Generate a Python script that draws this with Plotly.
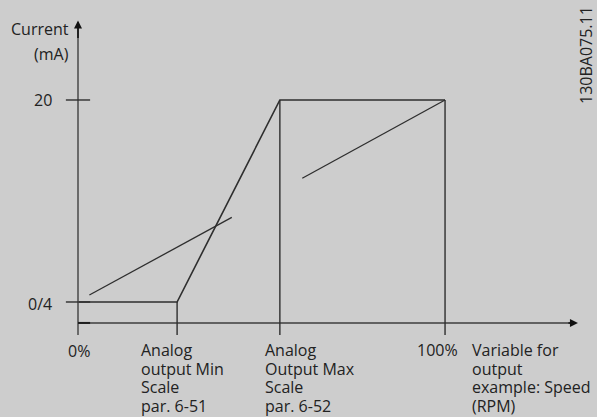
import plotly.graph_objects as go

# x in % of the variable, y in mA
pct_ticks = [0, 27, 55, 100]
ma_levels = [4, 20]
ma_labels = ["0/4", "20"]

min_label = ["Analog", "output Min", "Scale", "par. 6-51"]
max_label = ["Analog", "Output Max", "Scale", "par. 6-52"]
var_label = ["Variable for", "output", "example: Speed", "(RPM)"]
y_title = ["Current", "(mA)"]

curve_x = [0, 27, 55, 100]
curve_y = [4, 4, 20, 20]

# the two short illustration lines (slope of the variable)
slope_a_x = [3.1, 41.9]
slope_a_y = [4.55, 10.7]
slope_b_x = [61.1, 100]
slope_b_y = [13.8, 20]

axis_bottom = 1.39   # where the tick lines stop below the x axis
x_axis_y = 2.34
y_top = 26.3
x_end = 136.2

bg = "#cdcdcd"
ink = "#2e2e2e"

fig = go.Figure()

fig.add_trace(go.Scatter(x=curve_x, y=curve_y, mode="lines",
                         line=dict(color=ink, width=1.6), hoverinfo="skip"))
fig.add_trace(go.Scatter(x=slope_a_x, y=slope_a_y, mode="lines",
                         line=dict(color=ink, width=1.3), hoverinfo="skip"))
fig.add_trace(go.Scatter(x=slope_b_x, y=slope_b_y, mode="lines",
                         line=dict(color=ink, width=1.3), hoverinfo="skip"))

shapes = []
# y axis
shapes.append(dict(type="line", x0=0, x1=0, y0=axis_bottom, y1=y_top - 0.6,
                   line=dict(color="#6a6a6a", width=2)))
# x axis
shapes.append(dict(type="line", x0=0, x1=x_end - 1.5, y0=x_axis_y, y1=x_axis_y,
                   line=dict(color="#3c3c3c", width=1.6)))
# vertical drops from the curve
shapes.append(dict(type="line", x0=pct_ticks[1], x1=pct_ticks[1], y0=4, y1=axis_bottom,
                   line=dict(color=ink, width=1.4)))
for xv in pct_ticks[2:]:
    shapes.append(dict(type="line", x0=xv, x1=xv, y0=20, y1=axis_bottom,
                       line=dict(color=ink, width=1.4)))
# y ticks
for yv in ma_levels:
    shapes.append(dict(type="line", x0=-3.3, x1=3.3, y0=yv, y1=yv,
                       line=dict(color=ink, width=1.4)))
shapes.append(dict(type="line", x0=0, x1=3.3, y0=x_axis_y, y1=x_axis_y,
                   line=dict(color="#1e1e1e", width=2)))

annotations = []
# arrow heads
annotations.append(dict(x=0, y=y_top, ax=0, ay=y_top - 1.5, xref="x", yref="y",
                        axref="x", ayref="y", text="", showarrow=True,
                        arrowhead=2, arrowsize=1, arrowwidth=1.6, arrowcolor="#111"))
annotations.append(dict(x=x_end, y=x_axis_y, ax=x_end - 3, ay=x_axis_y, xref="x", yref="y",
                        axref="x", ayref="y", text="", showarrow=True,
                        arrowhead=2, arrowsize=1, arrowwidth=1.6, arrowcolor="#111"))

font = dict(family="Open Sans", size=16, color="#222")


def label(x, y, text, xanchor="left", yshift=0):
    annotations.append(dict(x=x, y=y, xref="x", yref="y", text=text, xanchor=xanchor,
                            yanchor="middle", showarrow=False, font=font, yshift=yshift,
                            borderpad=0))


# y axis title, one annotation per line
label(-2.2, 25.62, y_title[0], "right")
label(-2.2, 23.64, y_title[1], "right")
for yv, lab in zip(ma_levels, ma_labels):
    label(-6.9, yv, lab, "right", yshift=-2 if yv == 4 else 0)

# x labels: first line centre and line step, in pixels
line0 = 350
step = 18.7
label(pct_ticks[0] + 0.4, 4 - (line0 + 1 - 302) / 12.625, "0%", "center")
label(pct_ticks[3] - 2, 4 - (line0 - 302) / 12.625, "100%", "center")
for i in range(4):
    yy = 4 - (line0 + step * i - 302) / 12.625
    label(17.0, yy, min_label[i])
    label(50.8, yy, max_label[i])
    label(107.2, yy, var_label[i])

# drawing number
annotations.append(dict(x=586 / 597, y=1 - 55 / 417, xref="paper", yref="paper",
                        text="130BA075.11", textangle=-90, showarrow=False,
                        xanchor="center", yanchor="middle", borderpad=0,
                        font=dict(family="Open Sans", size=16, color="#222")))

fig.update_layout(
    width=597, height=417,
    margin=dict(l=0, r=0, t=0, b=0),
    paper_bgcolor=bg, plot_bgcolor=bg,
    showlegend=False,
    shapes=shapes, annotations=annotations,
    xaxis=dict(range=[-21.25, 141.4], visible=False, fixedrange=True),
    yaxis=dict(range=[-5.11, 27.92], visible=False, fixedrange=True),
)

fig.write_html("out.html", config={"displayModeBar": False},
               post_script="document.body.style.margin='0';")
